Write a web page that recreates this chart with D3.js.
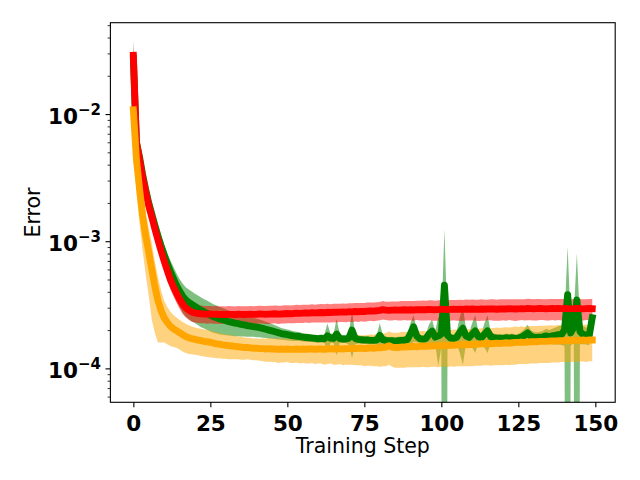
<!DOCTYPE html>
<html><head><meta charset="utf-8">
<script src="https://cdn.jsdelivr.net/npm/d3@7/dist/d3.min.js"></script>
<style>body{margin:0;background:#fff} text{font-family:"DejaVu Sans",sans-serif}</style>
</head><body><svg id="c" width="640" height="480"></svg>
<script>
// values are in units of 1e-4
const UNIT = 1e-4;
const redMean = [
290,60,44,32,24.5,19,15.5,12.5,10.2,8.4,
7.0,5.9,5.0,4.4,3.9,3.5,3.2,3.0,2.87,2.78,
2.73,2.70,2.69,2.68,2.67,2.68,2.66,2.67,2.65,2.66,
2.65,2.66,2.66,2.65,2.67,2.66,2.65,2.66,2.67,2.66,
2.66,2.68,2.67,2.66,2.67,2.68,2.69,2.67,2.68,2.69,
2.70,2.69,2.70,2.72,2.71,2.72,2.73,2.72,2.74,2.73,
2.74,2.75,2.74,2.76,2.75,2.77,2.76,2.77,2.78,2.77,
2.79,2.78,2.80,2.79,2.81,2.80,2.82,2.83,2.82,2.84,
2.86,2.90,2.87,2.86,2.87,2.88,2.87,2.88,2.89,2.88,
2.89,2.88,2.90,2.89,2.90,2.89,2.91,2.90,2.89,2.90,
2.92,2.91,2.90,2.91,2.92,2.91,2.92,2.91,2.93,2.92,
2.93,2.92,2.91,2.93,2.92,2.93,2.94,2.93,2.92,2.93,
2.94,2.93,2.95,2.94,2.93,2.94,2.95,2.94,2.96,2.95,
2.94,2.95,2.96,2.95,2.94,2.95,2.96,2.95,2.96,2.95,
2.96,2.95,2.94,2.95,2.96,2.95,2.94,2.95,2.96,2.95];
const redStd = [
90,10,7,5,3.8,3,2.4,2,1.6,1.3,
1.1,0.9,0.8,0.7,0.62,0.56,0.52,0.48,0.46,0.45,
0.44,0.43,0.43,0.42,0.43,0.42,0.42,0.43,0.42,0.42,
0.42,0.43,0.42,0.42,0.43,0.42,0.43,0.42,0.43,0.42,
0.43,0.43,0.42,0.43,0.44,0.43,0.43,0.44,0.43,0.44,
0.44,0.43,0.44,0.45,0.44,0.45,0.44,0.45,0.45,0.44,
0.45,0.46,0.45,0.46,0.45,0.46,0.46,0.45,0.46,0.46,
0.46,0.47,0.46,0.47,0.46,0.47,0.47,0.46,0.47,0.47,
0.47,0.48,0.47,0.48,0.49,0.48,0.49,0.50,0.49,0.50,
0.50,0.51,0.50,0.51,0.52,0.51,0.52,0.53,0.52,0.53,
0.53,0.54,0.53,0.54,0.53,0.54,0.55,0.54,0.55,0.54,
0.55,0.54,0.55,0.56,0.55,0.54,0.55,0.56,0.55,0.56,
0.55,0.56,0.55,0.56,0.57,0.56,0.55,0.56,0.57,0.56,
0.56,0.57,0.56,0.55,0.56,0.57,0.56,0.57,0.56,0.57,
0.56,0.57,0.56,0.57,0.56,0.57,0.56,0.55,0.56,0.57];
const greenMean = [
275,60,46,33.5,25.5,20,16.3,13.3,11.0,9.2,
7.8,6.7,5.8,5.1,4.5,4.05,3.7,3.45,3.3,3.18,
3.07,2.96,2.86,2.78,2.70,2.62,2.55,2.50,2.45,2.41,
2.37,2.33,2.30,2.27,2.25,2.22,2.20,2.17,2.15,2.13,
2.11,2.09,2.06,2.03,2.00,1.97,1.94,1.91,1.88,1.86,
1.84,1.82,1.80,1.79,1.78,1.76,1.75,1.74,1.73,1.72,
1.71,1.72,1.71,1.80,1.73,1.72,1.86,1.72,1.70,1.70,
1.73,2.00,1.72,1.69,1.68,1.67,1.67,1.66,1.66,1.67,
1.82,1.68,1.66,1.65,1.65,1.64,1.65,1.66,1.66,1.69,
1.88,2.12,1.80,1.71,1.69,1.72,1.86,1.96,1.76,1.80,
1.86,4.50,1.82,1.73,1.71,1.76,1.92,2.07,1.80,1.75,
1.86,1.97,1.78,1.74,1.86,1.97,1.78,1.74,1.73,1.73,
1.72,1.74,1.73,1.74,1.72,1.73,1.76,1.82,1.90,1.80,
1.76,1.75,1.76,1.77,1.80,1.78,1.80,1.82,1.84,1.85,
2.00,3.80,1.90,2.10,3.45,1.95,1.85,1.82,1.80,2.50];
const greenStd = [
100,15,10,7,5,4,3.2,2.6,2.1,1.8,
1.6,1.4,1.3,1.2,1.1,1.0,0.95,0.9,0.87,0.84,
0.8,0.78,0.75,0.72,0.7,0.67,0.64,0.62,0.6,0.57,
0.55,0.52,0.5,0.48,0.46,0.44,0.42,0.4,0.38,0.36,
0.35,0.33,0.32,0.3,0.28,0.26,0.24,0.22,0.2,0.19,
0.18,0.17,0.16,0.15,0.14,0.13,0.13,0.12,0.12,0.12,
0.12,0.13,0.12,0.45,0.15,0.14,0.6,0.14,0.12,0.12,
0.2,0.8,0.18,0.12,0.12,0.11,0.12,0.11,0.12,0.13,
0.45,0.15,0.12,0.11,0.12,0.11,0.12,0.12,0.13,0.15,
0.4,0.5,0.2,0.13,0.12,0.15,0.35,0.45,0.2,0.75,
0.4,8.0,0.3,0.15,0.14,0.2,0.6,1.0,0.25,0.15,
0.4,0.65,0.2,0.15,0.4,0.65,0.2,0.14,0.13,0.13,
0.13,0.14,0.13,0.14,0.13,0.14,0.18,0.22,0.3,0.2,
0.18,0.17,0.18,0.2,0.25,0.22,0.25,0.28,0.3,0.32,
0.5,5.3,0.4,0.5,4.6,0.4,0.3,0.28,0.28,0.4];
const orangeMean = [
108,44,26,16,11,8.2,6.0,4.4,3.4,2.85,
2.5,2.3,2.15,2.05,1.98,1.91,1.84,1.78,1.74,1.71,
1.69,1.67,1.65,1.63,1.62,1.60,1.58,1.56,1.55,1.53,
1.52,1.51,1.50,1.49,1.48,1.47,1.46,1.46,1.45,1.44,
1.44,1.43,1.43,1.42,1.43,1.42,1.42,1.41,1.42,1.41,
1.42,1.41,1.41,1.42,1.41,1.42,1.41,1.42,1.42,1.41,
1.42,1.42,1.41,1.42,1.43,1.42,1.42,1.43,1.42,1.43,
1.43,1.44,1.43,1.44,1.44,1.43,1.44,1.45,1.44,1.45,
1.45,1.46,1.47,1.51,1.47,1.46,1.46,1.47,1.47,1.48,
1.48,1.49,1.48,1.49,1.50,1.49,1.50,1.50,1.51,1.50,
1.51,1.52,1.51,1.52,1.52,1.53,1.53,1.54,1.53,1.54,
1.54,1.55,1.55,1.56,1.56,1.57,1.56,1.57,1.58,1.57,
1.58,1.59,1.58,1.59,1.60,1.60,1.61,1.60,1.61,1.62,
1.62,1.62,1.63,1.63,1.63,1.64,1.64,1.64,1.65,1.65,
1.65,1.66,1.65,1.66,1.66,1.66,1.67,1.66,1.67,1.67];
const orangeStd = [
40,20,12,7.5,5.5,4.5,3.6,2.5,1.8,1.25,
0.9,0.75,0.65,0.58,0.53,0.5,0.48,0.46,0.44,0.42,
0.41,0.4,0.4,0.39,0.39,0.38,0.37,0.36,0.35,0.34,
0.33,0.33,0.32,0.31,0.3,0.3,0.29,0.28,0.28,0.28,
0.28,0.28,0.29,0.29,0.3,0.3,0.3,0.31,0.31,0.3,
0.3,0.31,0.31,0.31,0.32,0.32,0.32,0.33,0.32,0.33,
0.33,0.33,0.34,0.34,0.34,0.35,0.35,0.35,0.36,0.36,
0.36,0.37,0.37,0.38,0.38,0.39,0.39,0.4,0.4,0.41,
0.42,0.42,0.43,0.44,0.44,0.45,0.45,0.46,0.46,0.46,
0.46,0.47,0.46,0.47,0.47,0.47,0.48,0.47,0.48,0.48,
0.48,0.48,0.49,0.48,0.49,0.49,0.49,0.5,0.49,0.5,
0.5,0.5,0.5,0.51,0.5,0.51,0.51,0.51,0.52,0.51,
0.52,0.52,0.52,0.52,0.53,0.52,0.53,0.52,0.53,0.53,
0.53,0.53,0.53,0.53,0.53,0.54,0.53,0.53,0.54,0.53,
0.53,0.54,0.53,0.53,0.54,0.53,0.53,0.54,0.53,0.53];
const xTicks = [0,25,50,75,100,125,150];
const yMajorTicks = [1e-4,1e-3,1e-2];
const yMajorExp = ["\u22124","\u22123","\u22122"];
const yMinorTicks = [6e-5,7e-5,8e-5,9e-5,2e-4,3e-4,4e-4,5e-4,6e-4,7e-4,8e-4,9e-4,
  2e-3,3e-3,4e-3,5e-3,6e-3,7e-3,8e-3,9e-3,2e-2,3e-2,4e-2,5e-2];

const series = [
  {mean: greenMean, std: greenStd, color: "#008000"},
  {mean: redMean, std: redStd, color: "#ff0000"},
  {mean: orangeMean, std: orangeStd, color: "#ffa500"}
];

const L = 110.4, R = 615.2, T = 22.7, B = 402.3;
const svg = d3.select("#c");
const x = d3.scaleLinear().domain([-7.45, 156.45]).range([L, R]);
const y = d3.scaleLog().domain([5.41e-5, 0.0523]).range([B, T]);

svg.append("defs").append("clipPath").attr("id","clip")
  .append("rect").attr("x",L).attr("y",T).attr("width",R-L).attr("height",B-T);
const plot = svg.append("g").attr("clip-path","url(#clip)");

const area = d3.area()
  .x((d,i) => x(i))
  .y0(d => y(Math.max(d.lo, 1e-12)))
  .y1(d => y(d.hi));
const line = d3.line().x((d,i) => x(i)).y(d => y(d));

series.forEach(s => {
  const pts = s.mean.map((m,i) => ({lo: (m - s.std[i]) * UNIT, hi: (m + s.std[i]) * UNIT}));
  plot.append("path").attr("d", area(pts)).attr("fill", s.color).attr("fill-opacity", 0.5);
});
series.forEach(s => {
  plot.append("path").attr("d", line(s.mean.map(m => m * UNIT)))
    .attr("fill","none").attr("stroke", s.color).attr("stroke-width", 6.9)
    .attr("stroke-linejoin","round").attr("stroke-linecap","square");
});

// x axis
const xa = svg.append("g").attr("transform",`translate(0,${B})`)
  .call(d3.axisBottom(x).tickValues(xTicks).tickSize(4.9).tickPadding(4.9).tickFormat(d3.format("d")));
xa.select(".domain").remove();
xa.selectAll("line").attr("stroke","#000").attr("stroke-width",1.1);
xa.selectAll("text").attr("font-size","21.5px").attr("font-weight","bold")
  .attr("font-family","DejaVu Sans").attr("fill","#000").attr("dy",null).attr("y",28.8);

// y axis minor
const ym = svg.append("g").attr("transform",`translate(${L},0)`)
  .call(d3.axisLeft(y).tickValues(yMinorTicks).tickSize(2.8).tickFormat(""));
ym.select(".domain").remove();
ym.selectAll("line").attr("stroke","#000").attr("stroke-width",0.8);

// y axis major
const ya = svg.append("g").attr("transform",`translate(${L},0)`)
  .call(d3.axisLeft(y).tickValues(yMajorTicks).tickSize(4.9).tickPadding(4.9).tickFormat(""));
ya.select(".domain").remove();
ya.selectAll("line").attr("stroke","#000").attr("stroke-width",1.1);
ya.selectAll(".tick").each(function(d,i){
  const t = d3.select(this).select("text")
    .attr("x", -9.5).attr("dy", null).attr("y", 9)
    .attr("text-anchor","end").attr("fill","#000")
    .attr("font-family","DejaVu Sans").attr("font-weight","bold").attr("font-size","21.5px");
  t.append("tspan").text("10");
  t.append("tspan").text(yMajorExp[i]).attr("font-size","15px").attr("dy",-9);
});

// frame
svg.append("rect").attr("x",L).attr("y",T).attr("width",R-L).attr("height",B-T)
  .attr("fill","none").attr("stroke","#000").attr("stroke-width",1.1);

// labels
svg.append("text").attr("x",(L+R)/2).attr("y",453).attr("text-anchor","middle")
  .attr("font-size","20.5px").attr("fill","#000").text("Training Step");
svg.append("text").attr("transform",`translate(40,${(T+B)/2}) rotate(-90)`)
  .attr("text-anchor","middle").attr("font-size","20.5px").attr("fill","#000").text("Error");
</script></body></html>
